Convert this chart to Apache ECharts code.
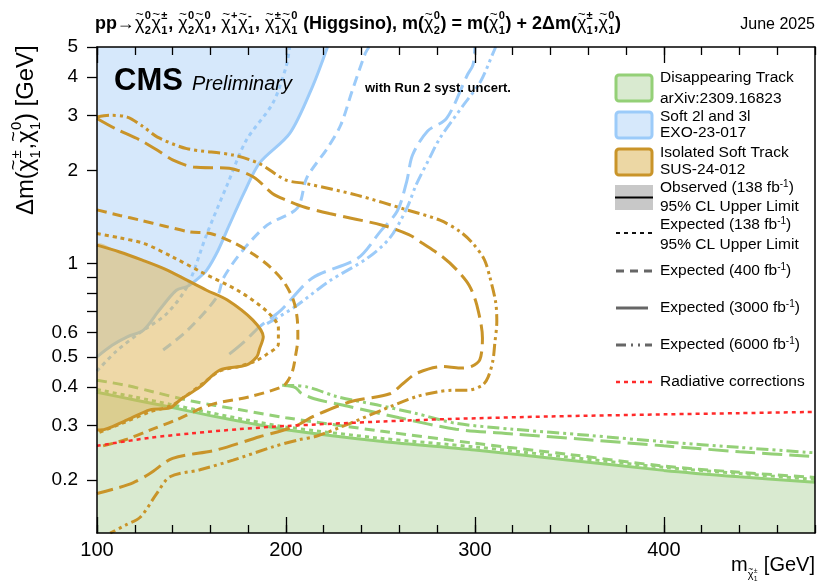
<!DOCTYPE html>
<html><head><meta charset="utf-8">
<script src="https://cdn.jsdelivr.net/npm/echarts@6/dist/echarts.min.js"></script>
<style>html,body{margin:0;padding:0;background:#fff}#c{width:819px;height:586px}</style>
</head><body><div id="c"></div>
<script>
// ---------------- DATA (m_chargino [GeV], delta m [GeV]) ----------------
const xMajorTicks = [100, 200, 300, 400];
const yTickLabels = [0.2, 0.3, 0.4, 0.5, 0.6, 1, 2, 3, 4, 5];
const yTickMarks = [0.2, 0.3, 0.4, 0.5, 0.6, 0.7, 0.8, 0.9, 1, 2, 3, 4, 5];

// Disappearing Track (arXiv:2309.16823)
const dtObserved = [[100,0.384],[120,0.363],[140,0.343],[160,0.323],[180,0.306],[200,0.291],[250,0.267],[300,0.250],[350,0.232],[400,0.215],[440,0.205],[480,0.197]];
const dtExp138 = [[100,0.392],[120,0.371],[140,0.350],[160,0.330],[180,0.312],[200,0.297],[250,0.273],[300,0.256],[350,0.237],[400,0.220],[440,0.210],[480,0.201]];
const dtExp400 = [[100,0.42],[115,0.405],[130,0.385],[150,0.36],[175,0.338],[200,0.318],[250,0.288],[300,0.263],[350,0.242],[400,0.222],[440,0.212],[480,0.204]];
const dtExp3000 = [[199,0.404],[205,0.398],[208,0.382],[215,0.366],[234,0.345],[260,0.318],[290,0.292],[320,0.282],[360,0.270],[400,0.258],[440,0.247],[480,0.238]];
const dtExp6000 = [[198,0.405],[211,0.400],[227,0.372],[248,0.350],[269,0.328],[290,0.305],[320,0.292],[360,0.279],[400,0.266],[440,0.255],[480,0.245]];

// Soft 2l and 3l (EXO-23-017)
const s23Observed = [[100,0.50],[108,0.545],[116,0.58],[124.6,0.61],[133,0.708],[142,0.82],[148,0.845],[154.5,0.906],[158,0.95],[164,1.1],[170,1.33],[178,1.7],[186,2.11],[202,2.63],[214,3.72],[222,5]];
const s23Exp138 = [[100,0.45],[110,0.52],[123,0.60],[137,0.69],[148,0.85],[158,1.24],[169,1.8],[179,2.5],[193,3.29],[200,4.3],[202,5]];
const s23Exp400 = [[135,0.526],[148,0.61],[163.5,0.78],[167,0.9],[177,1.1],[190,1.33],[206,1.51],[211,1.89],[222,2.36],[229,2.8],[235,3.6],[242,4.77],[244,5]];
const s23Exp3000 = [[170,0.51],[178,0.56],[186,0.625],[197,0.703],[214,0.898],[238,1.04],[250,1.27],[259,1.48],[264,1.85],[267,2.24],[275,2.68],[285,2.94],[296,4.06],[299,4.38],[300,5]];
const s23Exp6000 = [[190,0.64],[204,0.72],[223,0.878],[243,1.04],[255,1.21],[264,1.51],[269,1.8],[276,2.19],[281.5,2.54],[294,3.25],[303,3.87],[310,4.84],[311,5]];

// Isolated Soft Track (SUS-24-012)
const istObserved = [[100,1.147],[112,1.09],[124,1.026],[136,0.96],[147.6,0.884],[158,0.82],[169,0.763],[182.5,0.657],[188,0.58],[186,0.53],[184.6,0.50],[179,0.47],[165,0.453],[154.5,0.40],[144,0.363],[138.6,0.342],[128,0.337],[116,0.313],[101.6,0.29],[100,0.29]];
const istExp138 = [[100,1.25],[112,1.21],[125,1.16],[140,1.05],[155,0.94],[175,0.815],[190,0.70],[196,0.62],[196,0.55],[190,0.51],[184,0.485],[175,0.465],[165,0.45],[156,0.41],[146,0.37],[139,0.347],[128,0.332],[115,0.308],[100,0.283]];
const istExp400 = [[100,1.49],[112,1.43],[123,1.38],[136,1.32],[149,1.266],[160,1.25],[172,1.17],[183,1.07],[192,0.97],[199,0.87],[204,0.76],[206,0.66],[206.3,0.575],[205,0.5],[203.5,0.45],[201,0.418],[198,0.40],[181,0.372],[160,0.35],[142,0.313],[128,0.29],[115,0.27],[100,0.255]];
const istExp3000 = [[100,2.94],[110,2.72],[123,2.5],[133,2.3],[140,2.16],[151,2.05],[170,2.03],[183,1.9],[193,1.68],[200.5,1.6],[210,1.52],[223,1.45],[251,1.33],[265,1.24],[272.5,1.16],[283,1.05],[290.5,0.953],[297,0.85],[301,0.735],[304,0.575],[302.6,0.489],[298,0.465],[292,0.46],[283,0.465],[269,0.442],[262,0.41],[255,0.38],[234,0.358],[215,0.322],[204,0.297],[186,0.276],[163,0.25],[140,0.235],[128,0.21],[119,0.196],[110,0.188],[100,0.181]];
const istExp6000 = [[100,2.97],[107,3.01],[116,2.97],[124,2.78],[132,2.56],[147.5,2.35],[172,2.24],[186,2.1],[200,1.86],[211,1.81],[238,1.66],[264,1.49],[281.5,1.38],[292,1.27],[299,1.16],[305,1.03],[308,0.9],[311,0.75],[311.6,0.65],[310.5,0.55],[309.5,0.485],[307,0.43],[304,0.405],[296,0.39],[288,0.39],[280,0.385],[269,0.372],[251,0.337],[234,0.305],[216,0.277],[207,0.27],[193,0.256],[172,0.232],[154.5,0.216],[138.6,0.205],[131.6,0.181],[123,0.152],[115,0.143],[107,0.135]];

// Radiative corrections
const radiative = [[100,0.258],[128,0.274],[150,0.283],[175,0.292],[200,0.299],[250,0.309],[287,0.315],[340,0.321],[400,0.326],[440,0.329],[480,0.332]];

// ---------------- STYLE ----------------
const FONT = '"Liberation Sans", Arial, Helvetica, sans-serif';
const GREEN = '#94d077', GREEN_FILL = '#d9ead0';
const BLUE = '#9ccbf9', BLUE_FILL = '#d6e8fb';
const ORANGE = '#c99429', ORANGE_FILL = 'rgba(222,178,80,0.5)';
const RED = '#ff2a2a';
const DOT = [4, 4], DASH = [10, 6], LDASH = [20, 7], DDD = [12, 4, 3, 4, 3, 4];

const cv = document.createElement('canvas').getContext('2d');
function fontStr(s, w, st) { return (st || 'normal') + ' ' + (w || 'normal') + ' ' + s + 'px ' + FONT; }
function tw(t, s, w, st) { cv.font = fontStr(s, w, st); return cv.measureText(t).width; }
function T(t, x, B, s, w, st, align, fill) {
  return { type: 'text', silent: true, x: x, y: B - 0.34 * s, z: 100,
    style: { text: t, font: fontStr(s, w, st), fill: fill || '#000', align: align || 'left', verticalAlign: 'middle' } };
}
function layout(items, x0, B, k) {
  k = k || 1;
  const els = []; let x = x0;
  for (const it of items) {
    const s = it.s * k;
    if (it.chi) {
      const cw = tw('χ', s, 'normal');
      els.push(T('χ', x, B, s, 'normal'));
      els.push(T('~', x + cw * 0.5, B - 0.62 * s, s * 0.75, 'normal', null, 'center'));
      const ss = s * 0.62; let sw = 0;
      if (it.sup) { els.push(T(it.sup, x + cw + 0.3, B - 0.55 * s, ss, it.w)); sw = Math.max(sw, tw(it.sup, ss, it.w)); }
      if (it.sub) { els.push(T(it.sub, x + cw + 0.3, B + 0.26 * s, ss, it.w)); sw = Math.max(sw, tw(it.sub, ss, it.w)); }
      x += cw + sw + 1;
    } else {
      els.push(T(it.t, x, B + (it.dy || 0) * k, s, it.w, it.st));
      x += tw(it.t, s, it.w, it.st);
    }
  }
  return { els: els, width: x - x0 };
}
function fitLayout(items, x0, B, target) {
  const w = layout(items, x0, B, 1).width;
  return layout(items, x0, B, target / w);
}
const C = (sup, sub, s, w) => ({ chi: true, sup: sup, sub: sub, s: s, w: w });

// Title
const ts = 17;
const titleItems = [
  { t: 'pp→', s: ts, w: 'bold' }, C('0', '2', ts, 'bold'), C('±', '1', ts, 'bold'), { t: ', ', s: ts, w: 'bold' },
  C('0', '2', ts, 'bold'), C('0', '1', ts, 'bold'), { t: ', ', s: ts, w: 'bold' },
  C('+', '1', ts, 'bold'), C('-', '1', ts, 'bold'), { t: ', ', s: ts, w: 'bold' },
  C('±', '1', ts, 'bold'), C('0', '1', ts, 'bold'), { t: ' (Higgsino), m(', s: ts, w: 'bold' },
  C('0', '2', ts, 'bold'), { t: ') = m(', s: ts, w: 'bold' }, C('0', '1', ts, 'bold'),
  { t: ') + 2Δm(', s: ts, w: 'bold' }, C('±', '1', ts, 'bold'), { t: ',', s: ts, w: 'bold' }, C('0', '1', ts, 'bold'), { t: ')', s: ts, w: 'bold' }
];
const title = fitLayout(titleItems, 95, 30, 527);

// Y axis title (rotated)
const ys = 20;
const yTitleItems = [{ t: 'Δm(', s: ys }, C('±', '1', ys), { t: ',', s: ys }, C('0', '1', ys), { t: ') [GeV]', s: ys }];
const yTitle = fitLayout(yTitleItems, 0, 0, 170);

// X axis title
const xa = layout([{ t: 'm', s: 20 }], 0, 0);
const xChi = layout([C('±', '1', 11)], 0, 0);
const xG = layout([{ t: ' [GeV]', s: 20 }], 0, 0);
const xTotal = xa.width + xChi.width + xG.width;
const xStart = 815 - xTotal;
const xTitleEls = [].concat(
  layout([{ t: 'm', s: 20 }], xStart, 572).els,
  layout([C('±', '1', 11)], xStart + xa.width, 579).els,
  layout([{ t: ' [GeV]', s: 20 }], xStart + xa.width + xChi.width, 572).els
);

// Legend
const LX = 660, LS = 15.5;
function legText(items, center) { return layout(items, LX, center + 5.4).els; }
const fb = (pre, post) => [{ t: pre, s: LS }, { t: '-1', s: 10, dy: -6 }, { t: post, s: LS }];
const legendEls = [].concat(
  [
    { type: 'rect', shape: { x: 616, y: 75, width: 36, height: 26, r: 3 }, style: { fill: GREEN_FILL, stroke: GREEN, lineWidth: 3 }, z: 90, silent: true },
    { type: 'rect', shape: { x: 616, y: 112, width: 36, height: 26, r: 3 }, style: { fill: BLUE_FILL, stroke: BLUE, lineWidth: 3 }, z: 90, silent: true },
    { type: 'rect', shape: { x: 616, y: 149, width: 36, height: 26, r: 3 }, style: { fill: '#ecd7a4', stroke: ORANGE, lineWidth: 3 }, z: 90, silent: true },
    { type: 'rect', shape: { x: 615, y: 185, width: 38, height: 25 }, style: { fill: '#c8c8c8' }, z: 90, silent: true },
    { type: 'line', shape: { x1: 615, y1: 197.5, x2: 653, y2: 197.5 }, style: { stroke: '#000', lineWidth: 2 }, z: 91, silent: true },
    { type: 'line', shape: { x1: 616, y1: 233, x2: 652, y2: 233 }, style: { stroke: '#111', lineWidth: 2, lineDash: [4, 4] }, z: 91, silent: true },
    { type: 'line', shape: { x1: 616, y1: 271, x2: 654, y2: 271 }, style: { stroke: '#666', lineWidth: 3, lineDash: [8, 6] }, z: 91, silent: true },
    { type: 'line', shape: { x1: 616, y1: 308, x2: 648, y2: 308 }, style: { stroke: '#666', lineWidth: 3 }, z: 91, silent: true },
    { type: 'line', shape: { x1: 616, y1: 345, x2: 652, y2: 345 }, style: { stroke: '#666', lineWidth: 3, lineDash: [10, 5, 2, 5, 2, 5] }, z: 91, silent: true },
    { type: 'line', shape: { x1: 616, y1: 382, x2: 652, y2: 382 }, style: { stroke: RED, lineWidth: 2.5, lineDash: [4, 4] }, z: 91, silent: true }
  ],
  legText([{ t: 'Disappearing Track', s: LS }], 78),
  legText([{ t: 'arXiv:2309.16823', s: LS }], 98.5),
  legText([{ t: 'Soft 2l and 3l', s: LS }], 116.5),
  legText([{ t: 'EXO-23-017', s: LS }], 133),
  legText([{ t: 'Isolated Soft Track', s: LS }], 153),
  legText([{ t: 'SUS-24-012', s: LS }], 169.5),
  legText(fb('Observed (138 fb', ')'), 188),
  legText([{ t: '95% CL Upper Limit', s: LS }], 207),
  legText(fb('Expected (138 fb', ')'), 225),
  legText([{ t: '95% CL Upper Limit', s: LS }], 245),
  legText(fb('Expected (400 fb', ')'), 271),
  legText(fb('Expected (3000 fb', ')'), 308),
  legText(fb('Expected (6000 fb', ')'), 345),
  legText([{ t: 'Radiative corrections', s: LS }], 382)
);

const graphics = [].concat(
  title.els,
  [T('June 2025', 815, 30, 16, 'normal', null, 'right')],
  [{ type: 'group', x: 35, y: 215, rotation: Math.PI / 2, children: yTitle.els }],
  xTitleEls,
  [T('CMS', 114, 92, 31, 'bold')],
  [T('Preliminary', 192, 91, 20, 'normal', 'italic')],
  [T('with Run 2 syst. uncert.', 365, 92.5, 13, 'bold')],
  legendEls
);

// ---------------- SERIES ----------------
function line(data, color, dash, z, width) {
  return { type: 'line', data: data, xAxisIndex: 0, yAxisIndex: 0, symbol: 'none', smooth: 0.3, z: z,
    lineStyle: { color: color, width: width || 3, type: dash || 'solid', cap: 'butt' }, silent: true, clip: true };
}
const series = [
  Object.assign(line(dtObserved, GREEN, 'solid', 2), { areaStyle: { color: GREEN_FILL, opacity: 1, origin: 'start' } }),
  Object.assign(line(s23Observed, BLUE, 'solid', 2), { areaStyle: { color: BLUE_FILL, opacity: 1, origin: 'end' } }),
  line(dtExp138, GREEN, DOT, 3),
  line(dtExp400, GREEN, DASH, 3),
  line(dtExp3000, GREEN, LDASH, 3),
  line(dtExp6000, GREEN, DDD, 3),
  line(s23Exp138, BLUE, DOT, 3),
  line(s23Exp400, BLUE, DASH, 3),
  line(s23Exp3000, BLUE, LDASH, 3),
  line(s23Exp6000, BLUE, DDD, 3),
  {
    type: 'custom', xAxisIndex: 0, yAxisIndex: 0, z: 4, silent: true, clip: true,
    data: [[100, 1]],
    renderItem: function (params, api) {
      const pts = istObserved.map(p => api.coord(p));
      return { type: 'polygon', shape: { points: pts, smooth: 0.3 }, style: { fill: ORANGE_FILL } };
    }
  },
  line(istObserved, ORANGE, 'solid', 5),
  line(istExp138, ORANGE, DOT, 5),
  line(istExp400, ORANGE, DASH, 5),
  line(istExp3000, ORANGE, LDASH, 5),
  line(istExp6000, ORANGE, DDD, 5),
  line(radiative, RED, DOT, 6, 2.5)
];

const axisLineStyle = { color: '#000', width: 1.5 };
function xAx(pos, major) {
  const a = { type: 'value', position: pos, min: 100, max: 480, z: 20, splitLine: { show: false },
    axisLine: { show: major, onZero: false, lineStyle: axisLineStyle },
    axisTick: { show: true, inside: true, length: major ? 16 : 8, lineStyle: { color: '#000', width: 1.3 } },
    axisLabel: { show: false } };
  if (major) {
    a.axisTick.customValues = xMajorTicks;
    a.axisLabel = (pos === 'bottom') ? { show: true, customValues: xMajorTicks, fontSize: 20, color: '#000', fontFamily: FONT, margin: 7 } : { show: false };
  } else {
    a.interval = 20;
  }
  return a;
}

const option = {
  animation: false,
  textStyle: { fontFamily: FONT },
  grid: { left: 97, right: 4, top: 47, bottom: 53, containLabel: false, outerBoundsMode: 'none' },
  xAxis: [xAx('bottom', true), xAx('bottom', false), xAx('top', true), xAx('top', false)],
  yAxis: [
    { type: 'log', logBase: 10, min: 0.135, max: 5, position: 'left', z: 20, splitLine: { show: false },
      axisLine: { show: true, onZero: false, lineStyle: axisLineStyle },
      axisTick: { show: true, inside: false, length: 10, customValues: yTickMarks, lineStyle: { color: '#000', width: 1.3 } },
      minorTick: { show: false },
      axisLabel: { show: true, customValues: yTickLabels, fontSize: 19, color: '#000', fontFamily: FONT, margin: 19,
        formatter: v => String(parseFloat(Number(v).toPrecision(3))) } },
    { type: 'log', logBase: 10, min: 0.135, max: 5, position: 'right', z: 20, splitLine: { show: false },
      axisLine: { show: true, onZero: false, lineStyle: axisLineStyle }, axisTick: { show: false }, axisLabel: { show: false } }
  ],
  series: series,
  graphic: graphics
};
const chart = echarts.init(document.getElementById('c'));
chart.setOption(option);
</script>
</body></html>
